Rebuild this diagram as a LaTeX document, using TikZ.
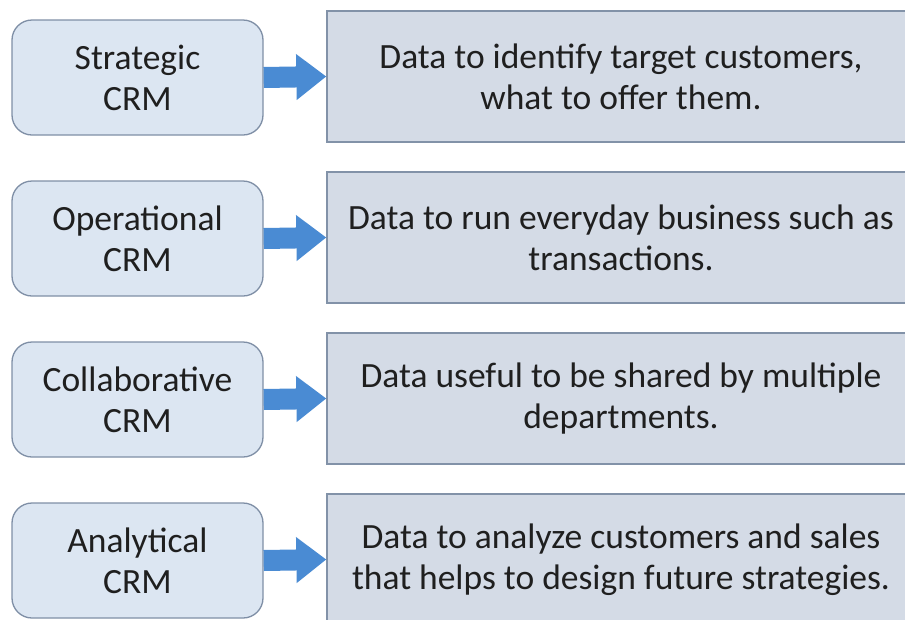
\documentclass[tikz,border=0pt]{standalone}
\usepackage{fontspec}
\setmainfont{Carlito}
\usetikzlibrary{arrows.meta}

\definecolor{crmfill}{HTML}{DCE6F2}
\definecolor{crmline}{HTML}{7F8FA6}
\definecolor{datafill}{HTML}{D4DBE6}
\definecolor{dataline}{HTML}{8292A8}
\definecolor{arrowblue}{HTML}{4A8BD3}

\tikzset{
  crmbox/.style={draw=crmline, fill=crmfill, line width=1.3pt, rounded corners=20pt,
    minimum width=251pt, minimum height=115pt, align=center, inner sep=0pt},
  databox/.style={draw=dataline, fill=datafill, line width=1.3pt,
    minimum width=588pt, minimum height=131pt, align=center, inner sep=0pt},
  blockarrow/.style={draw=arrowblue, line width=21pt,
    -{Triangle[length=30pt, width=44pt]}}
}

\begin{document}
\begin{tikzpicture}[x=1pt, y=-1pt, font=\fontsize{35.5}{41}\selectfont, text=black!88]
        \useasboundingbox (0,0) rectangle (905,619);
        \clip (0,0) rectangle (905,619);

        % Strategic
        \node[crmbox] (strat) at (137.5,77.5) {Strategic\\CRM};
        \node[databox] (stratdata) at (621,76.5) {Data to identify target customers,\\what to offer them.};
        \draw[blockarrow] (strat.east) -- (stratdata.west);

        % Operational
        \node[crmbox] (oper) at (137.5,238.5) {Operational\\CRM};
        \node[databox] (operdata) at (621,237.5) {Data to run everyday business such as\\transactions.};
        \draw[blockarrow] (oper.east) -- (operdata.west);

        % Collaborative
        \node[crmbox] (collab) at (137.5,399.5) {Collaborative\\CRM};
        \node[databox] (collabdata) at (621,398.5) {Data useful to be shared by multiple\\departments.};
        \draw[blockarrow] (collab.east) -- (collabdata.west);

        % Analytical
        \node[crmbox] (analyt) at (137.5,560.5) {Analytical\\CRM};
        \node[databox] (analytdata) at (621,559.5) {Data to analyze customers and sales\\that helps to design future strategies.};
        \draw[blockarrow] (analyt.east) -- (analytdata.west);
    \end{tikzpicture}
\end{document}
